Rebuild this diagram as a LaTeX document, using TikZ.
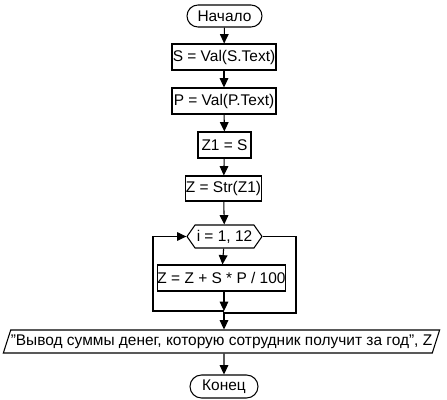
\documentclass[tikz,border=0pt]{standalone}
\usepackage{fontspec}
\setmainfont{Liberation Sans}
\usetikzlibrary{arrows.meta, shapes.geometric, shapes.misc, shapes.symbols, positioning}

\begin{document}
\begin{tikzpicture}[x=0.75pt, y=-0.75pt, line width=0.8pt,
        font=\fontsize{11.6}{14}\selectfont,
        term/.style={draw, rounded rectangle, minimum height=22*0.75pt, inner sep=0pt},
        proc/.style={draw, rectangle, minimum height=26*0.75pt, inner sep=0pt},
        cycle/.style={draw, signal, signal to=west and east, signal pointer angle=110, minimum width=75*0.75pt, minimum height=23*0.75pt, inner sep=0pt},
        io/.style={draw, trapezium, trapezium left angle=62, trapezium right angle=118, trapezium stretches=true, minimum width=437*0.75pt, minimum height=23*0.75pt, inner sep=0pt},
        arr/.style={-{Triangle[length=7pt, width=6.5pt]}}]
            \useasboundingbox (0,0) rectangle (447,400);
            \node[term, minimum width=75*0.75pt] (start) at (224.5,16) {Начало};
            \node[proc, minimum width=104*0.75pt] (s) at (224,57) {S = Val(S.Text)};
            \node[proc, minimum width=104*0.75pt] (p) at (224,101) {P = Val(P.Text)};
            \node[proc, minimum width=53*0.75pt] (z1) at (224.5,145) {Z1 = S};
            \node[proc, minimum width=76*0.75pt, minimum height=25*0.75pt] (zs) at (223.5,188.5) {Z = Str(Z1)};
            \node[cycle] (loop) at (224.5,236.5) {i = 1, 12};
            \node[proc, minimum width=128*0.75pt] (body) at (221.5,278) {Z = Z + S * P / 100};
            \node[io] (out) at (221.5,341.5) {"Вывод суммы денег, которую сотрудник получит за год", Z};
            \node[term, minimum width=68*0.75pt, minimum height=23*0.75pt] (end) at (224,386.5) {Конец};
            \coordinate (b1) at (224,311);
            \coordinate (lb) at (153,311);
            \coordinate (rb) at (296,313);
            \draw[arr] (start) -- (s);
            \draw[arr] (s) -- (p);
            \draw[arr] (p) -- (z1);
            \draw[arr] (z1) -- (zs);
            \draw[arr] (zs) -- (loop);
            \draw[arr] (loop) -- (body);
            \draw[arr] (body.south -| b1) -- (b1);
            \draw[arr] (b1) -- (lb) |- (loop.west);
            \draw[arr] (loop.east) -| (rb) -| (out.north -| b1);
            \draw[arr] (out.south -| end) -- (end);
        \end{tikzpicture}
\end{document}
